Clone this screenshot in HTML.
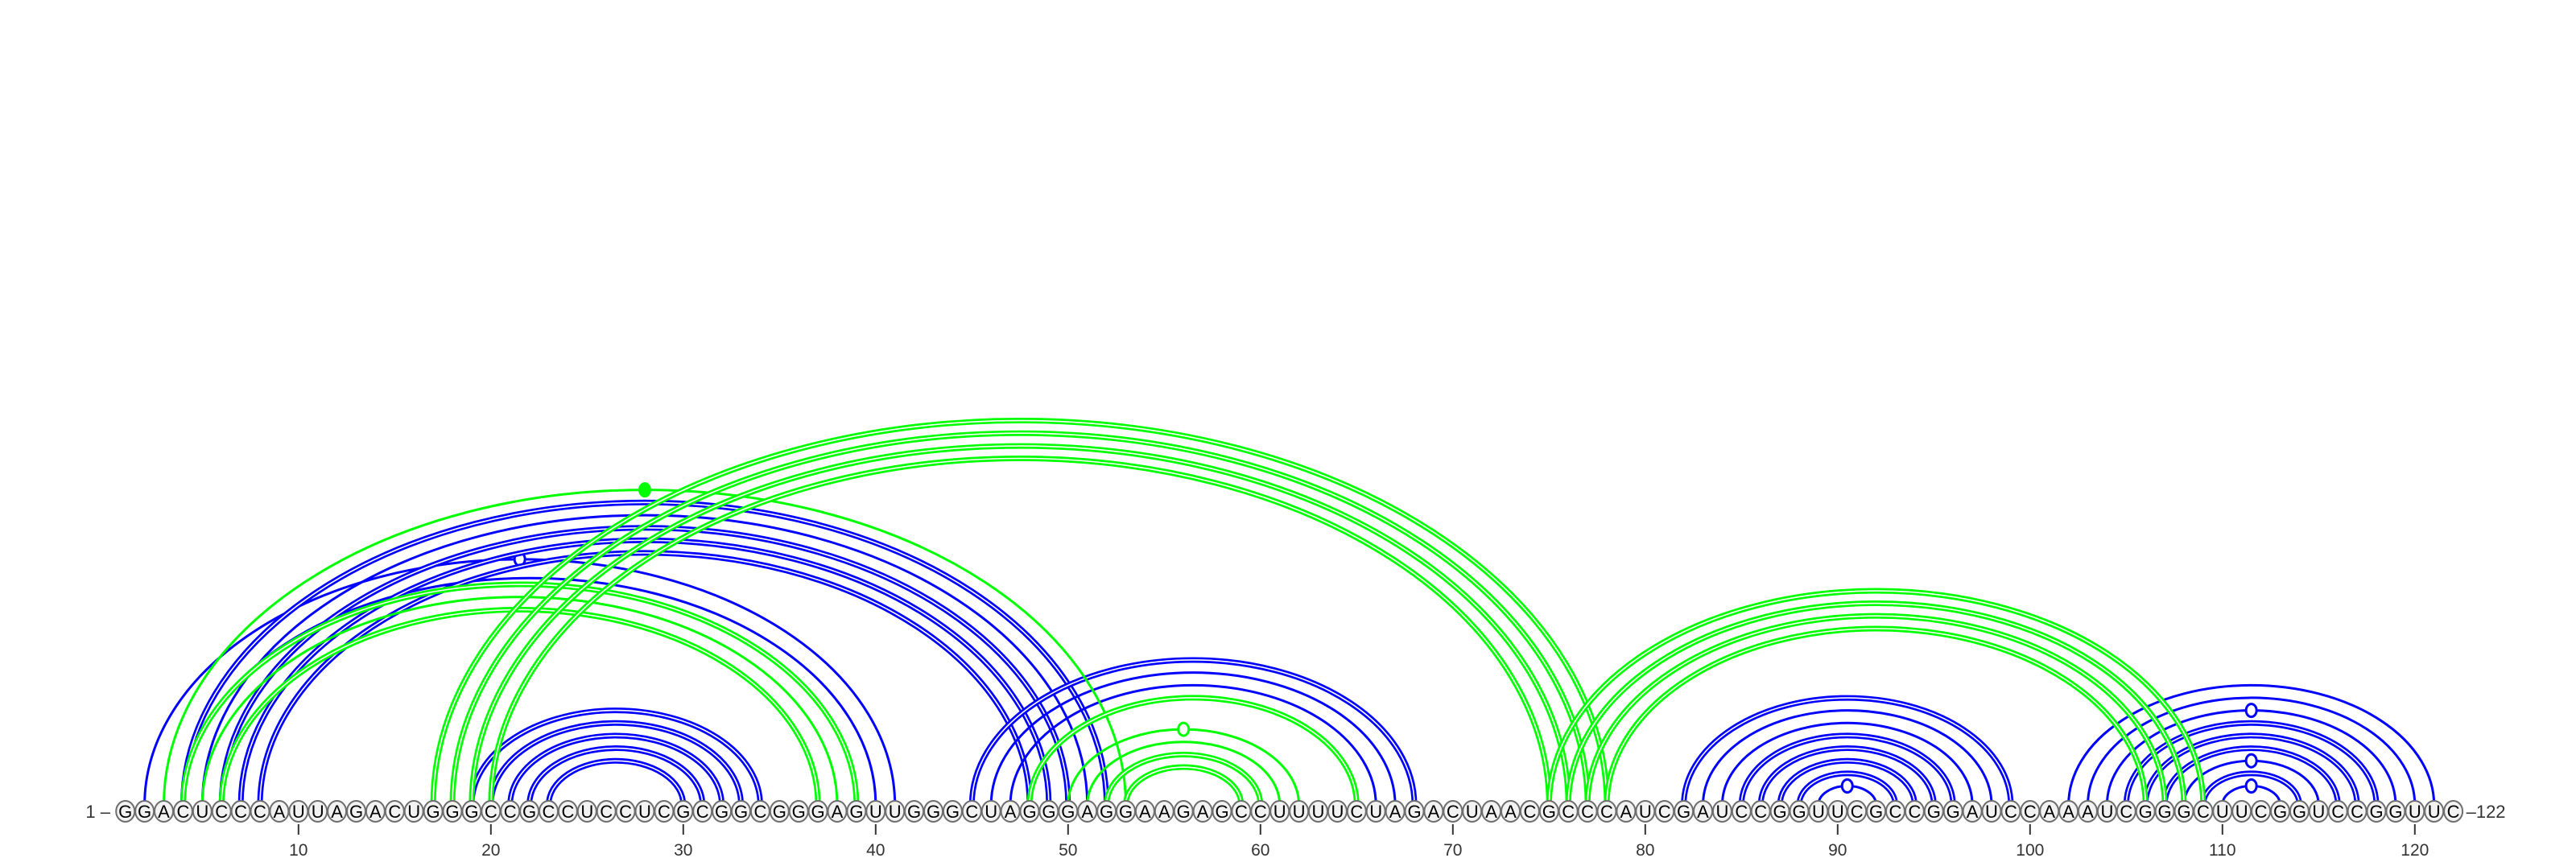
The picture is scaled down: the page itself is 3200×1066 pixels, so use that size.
<!DOCTYPE html>
<html><head><meta charset="utf-8"><title>RNA arc diagram</title>
<style>
html,body{margin:0;padding:0;background:#fff;}
svg{display:block;}
text{font-family:"Liberation Sans","DejaVu Sans",sans-serif;}
</style></head>
<body>
<svg id="chart" width="3200" height="1066" viewBox="0 0 3200 1066" xmlns="http://www.w3.org/2000/svg">
<g id="arcs"></g>
<g id="bases"></g>
<g id="axis"></g>
</svg>
<script>
const sequence = "GGACUCCCAUUAGACUGGGCCGCCUCCUCGCGGCGGGAGUUGGGCUAGGGAGGAAGAGCCUUUUCUAGACUAACGCCCAUCGAUCCGGUUCGCCGGAUCCAAAUCGGGCUUCGGUCCGGUUC";
// blue structure pairs
const blueI = [2,4,5,6,7,8,4,19,20,21,22,23,45,46,47,82,83,84,85,86,87,88,89,102,103,104,105,106,107,108,109,110];
const blueJ = [41,40,51,50,49,48,52,34,33,32,31,30,68,67,66,99,98,97,96,95,94,93,92,121,120,119,118,117,116,115,114,113];
const blueDouble = [0,0,0,1,1,1,1,1,1,1,1,1,1,0,0,1,0,0,1,1,1,1,0,0,0,0,1,1,1,0,1,0];
const blueMarker = [1,0,0,0,0,0,0,0,0,0,0,0,0,0,0,0,0,0,0,0,0,0,1,0,0,1,0,0,0,1,0,1];
// green structure pairs
const greenI = [3,4,5,6,17,18,19,20,48,50,51,52,53,75,76,77,78];
const greenJ = [53,39,38,37,78,77,76,75,65,62,61,60,59,109,108,107,106];
const greenDouble = [0,1,0,1,1,1,1,1,1,0,0,1,1,1,1,1,1];
const greenMarker = [2,0,0,0,0,0,0,0,0,1,0,0,0,0,0,0,0];
const tickLabels = [10,20,30,40,50,60,70,80,90,100,110,120];

const NS = "http://www.w3.org/2000/svg";
const X0 = 370.8, STEP = 23.9, Y0 = 1000, RATIO = 0.655, CY = 1008;
function xPos(i){ return X0 + (i - 10) * STEP; }
function mk(tag, attrs, parent){ const e = document.createElementNS(NS, tag); for (const k in attrs) e.setAttribute(k, attrs[k]); parent.appendChild(e); return e; }

const arcs = document.getElementById('arcs');
function drawArcs(I, J, D, M, color, label){
  for (let k = 0; k < I.length; k++){
    const xi = xPos(I[k]), xj = xPos(J[k]);
    const rx = (xj - xi) / 2, ry = rx * RATIO;
    const d = `M ${xi} ${Y0} A ${rx} ${ry} 0 0 1 ${xj} ${Y0}`;
    const g = mk('g', {}, arcs);
    
    
    if (D[k]) {
      mk('path', {d: d, fill: 'none', stroke: color, 'stroke-width': 7}, g);
      mk('path', {d: d, fill: 'none', stroke: '#fff', 'stroke-width': 1.6}, g);
    } else {
      mk('path', {d: d, fill: 'none', stroke: color, 'stroke-width': 3}, g);
    }
    if (M[k]) {
      const cx = (xi + xj) / 2, cyy = Y0 - ry;
      const c = mk('ellipse', {cx: cx, cy: cyy, rx: 6.5, ry: 8, fill: M[k] === 2 ? color : '#fff', stroke: color, 'stroke-width': 3}, g);
      
      
    }
  }
}
drawArcs(blueI, blueJ, blueDouble, blueMarker, '#0000ff', 'blue');
drawArcs(greenI, greenJ, greenDouble, greenMarker, '#00ff00', 'green');

const bases = document.getElementById('bases');
for (let i = 1; i <= sequence.length; i++){
  const g = mk('g', {}, bases);
  
  
  mk('ellipse', {cx: xPos(i), cy: CY, rx: 11.5, ry: 13, fill: '#f2f2f2', stroke: '#6e6e6e', 'stroke-width': 2}, g);
  const t = mk('text', {x: xPos(i), y: CY + 8, 'text-anchor': 'middle', 'font-size': 22, fill: '#000'}, g);
  t.textContent = sequence[i - 1];
}

const axis = document.getElementById('axis');
for (const v of tickLabels){
  const tk = mk('line', {x1: xPos(v), x2: xPos(v), y1: 1024, y2: 1037, stroke: '#333', 'stroke-width': 2}, axis);
  
  
  const t = mk('text', {x: xPos(v), y: 1063, 'text-anchor': 'middle', 'font-size': 21, fill: '#333'}, axis);
  
  
  t.textContent = v;
}
const st = mk('text', {x: 137, y: 1016, 'text-anchor': 'end', 'font-size': 22, fill: '#333'}, axis);


st.textContent = '1 \u2013';
const en = mk('text', {x: xPos(sequence.length) + 16, y: 1016, 'text-anchor': 'start', 'font-size': 22, fill: '#333'}, axis);


en.textContent = '\u2013' + sequence.length;
</script>
</body></html>
